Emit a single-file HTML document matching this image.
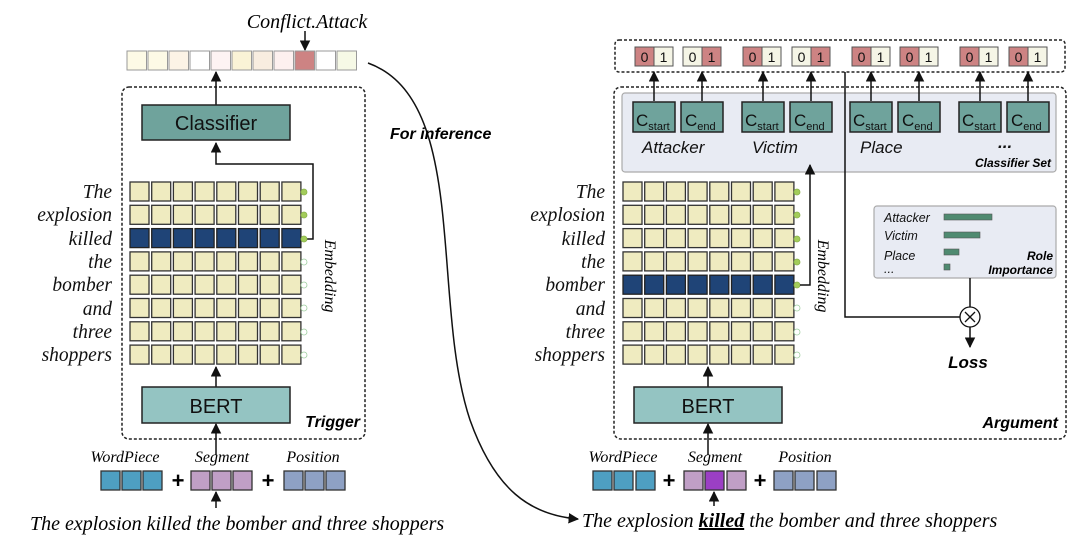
<!DOCTYPE html>
<html><head><meta charset="utf-8"><style>
html,body{margin:0;padding:0;background:#fff;}
svg{display:block;}
.ser{font-family:"Liberation Serif",serif;font-style:italic;}
.san{font-family:"Liberation Sans",sans-serif;}
</style></head><body>
<svg width="1080" height="547" viewBox="0 0 1080 547" xmlns="http://www.w3.org/2000/svg">
<defs>
<marker id="ar" viewBox="0 0 10 10" refX="9" refY="5" markerWidth="7" markerHeight="7" orient="auto-start-reverse"><path d="M0,0 L10,5 L0,10 z" fill="#111"/></marker>
<g id="row">
<rect x="0" y="0" width="19" height="19" fill="#efebc0" stroke="#333" stroke-width="1.3"/>
<rect x="21.7" y="0" width="19" height="19" fill="#efebc0" stroke="#333" stroke-width="1.3"/>
<rect x="43.4" y="0" width="19" height="19" fill="#efebc0" stroke="#333" stroke-width="1.3"/>
<rect x="65.1" y="0" width="19" height="19" fill="#efebc0" stroke="#333" stroke-width="1.3"/>
<rect x="86.8" y="0" width="19" height="19" fill="#efebc0" stroke="#333" stroke-width="1.3"/>
<rect x="108.5" y="0" width="19" height="19" fill="#efebc0" stroke="#333" stroke-width="1.3"/>
<rect x="130.2" y="0" width="19" height="19" fill="#efebc0" stroke="#333" stroke-width="1.3"/>
<rect x="151.9" y="0" width="19" height="19" fill="#efebc0" stroke="#333" stroke-width="1.3"/>
</g>
<g id="drow">
<rect x="0" y="0" width="19" height="19" fill="#1f4477" stroke="#222" stroke-width="1.3"/>
<rect x="21.7" y="0" width="19" height="19" fill="#1f4477" stroke="#222" stroke-width="1.3"/>
<rect x="43.4" y="0" width="19" height="19" fill="#1f4477" stroke="#222" stroke-width="1.3"/>
<rect x="65.1" y="0" width="19" height="19" fill="#1f4477" stroke="#222" stroke-width="1.3"/>
<rect x="86.8" y="0" width="19" height="19" fill="#1f4477" stroke="#222" stroke-width="1.3"/>
<rect x="108.5" y="0" width="19" height="19" fill="#1f4477" stroke="#222" stroke-width="1.3"/>
<rect x="130.2" y="0" width="19" height="19" fill="#1f4477" stroke="#222" stroke-width="1.3"/>
<rect x="151.9" y="0" width="19" height="19" fill="#1f4477" stroke="#222" stroke-width="1.3"/>
</g>
<circle id="gd" r="3" fill="#a3cc5a" stroke="#8ab34a" stroke-width="0.8"/>
<circle id="od" r="3" fill="#fff" stroke="#9fcf9f" stroke-width="0.8"/>
<g id="pr"><rect x="0" y="0" width="19" height="19" fill="#cd8383" stroke="#555" stroke-width="1"/><rect x="19" y="0" width="19" height="19" fill="#f5f5e6" stroke="#555" stroke-width="1"/></g>
<g id="pl"><rect x="0" y="0" width="19" height="19" fill="#f5f5e6" stroke="#555" stroke-width="1"/><rect x="19" y="0" width="19" height="19" fill="#cd8383" stroke="#555" stroke-width="1"/></g>
</defs>

<!-- ============ LEFT ============ -->
<text x="307" y="28" class="ser" font-size="20" text-anchor="middle">Conflict.Attack</text>
<line x1="305" y1="31" x2="305" y2="50" stroke="#111" stroke-width="1.5" marker-end="url(#ar)"/>
<g stroke="#999" stroke-width="1">
<rect x="127" y="51" width="19.5" height="19" fill="#fdfae6"/>
<rect x="148" y="51" width="19.5" height="19" fill="#fdfae6"/>
<rect x="169" y="51" width="19.5" height="19" fill="#fcf3e6"/>
<rect x="190" y="51" width="19.5" height="19" fill="#fff"/>
<rect x="211" y="51" width="19.5" height="19" fill="#fdf3f3"/>
<rect x="232" y="51" width="19.5" height="19" fill="#faf3d6"/>
<rect x="253" y="51" width="19.5" height="19" fill="#f8ede0"/>
<rect x="274" y="51" width="19.5" height="19" fill="#fdf0ef"/>
<rect x="295" y="51" width="19.5" height="19" fill="#cd8383"/>
<rect x="316" y="51" width="19.5" height="19" fill="#fff"/>
<rect x="337" y="51" width="19.5" height="19" fill="#f6f9e6"/>
</g>
<rect x="122" y="87" width="243" height="352" rx="7" fill="none" stroke="#222" stroke-width="1.5" stroke-dasharray="3,2"/>
<line x1="216" y1="105" x2="216" y2="72" stroke="#111" stroke-width="1.5" marker-end="url(#ar)"/>
<rect x="142" y="105" width="148" height="35" fill="#6fa39c" stroke="#222" stroke-width="1.5"/>
<text x="216" y="130" class="san" font-size="20" text-anchor="middle" fill="#111">Classifier</text>
<polyline points="307,239 313,239 313,164 216,164 216,143" fill="none" stroke="#111" stroke-width="1.5" marker-end="url(#ar)"/>
<use href="#row" x="130" y="182"/>
<use href="#row" x="130" y="205.3"/>
<use href="#drow" x="130" y="228.6"/>
<use href="#row" x="130" y="251.9"/>
<use href="#row" x="130" y="275.2"/>
<use href="#row" x="130" y="298.5"/>
<use href="#row" x="130" y="321.8"/>
<use href="#row" x="130" y="345.1"/>
<use href="#gd" x="304" y="192"/><use href="#gd" x="304" y="215"/><use href="#gd" x="304" y="239"/>
<use href="#od" x="304" y="262"/><use href="#od" x="304" y="285"/><use href="#od" x="304" y="308"/><use href="#od" x="304" y="332"/><use href="#od" x="304" y="355"/>
<g class="ser" font-size="19.5" text-anchor="end" fill="#111">
<text x="112" y="198">The</text><text x="112" y="221">explosion</text><text x="112" y="245">killed</text><text x="112" y="268">the</text><text x="112" y="291">bomber</text><text x="112" y="315">and</text><text x="112" y="338">three</text><text x="112" y="361">shoppers</text>
</g>
<text transform="translate(325,276) rotate(90)" class="ser" font-size="16" text-anchor="middle">Embedding</text>
<line x1="216" y1="387" x2="216" y2="367" stroke="#111" stroke-width="1.5" marker-end="url(#ar)"/>
<rect x="142" y="387" width="148" height="36" fill="#94c4c2" stroke="#222" stroke-width="1.5"/>
<text x="216" y="413" class="san" font-size="20" text-anchor="middle" fill="#111">BERT</text>
<text x="360" y="427" class="san" font-size="16" font-weight="bold" font-style="italic" text-anchor="end">Trigger</text>
<line x1="216" y1="455" x2="216" y2="424" stroke="#111" stroke-width="1.5" marker-end="url(#ar)"/>
<g class="ser" font-size="16" text-anchor="middle"><text x="125" y="462">WordPiece</text><text x="222" y="462">Segment</text><text x="313" y="462">Position</text></g>
<g stroke="#333" stroke-width="1.3">
<rect x="101" y="471" width="19" height="19" fill="#4e9fc2"/><rect x="122" y="471" width="19" height="19" fill="#4e9fc2"/><rect x="143" y="471" width="19" height="19" fill="#4e9fc2"/>
<rect x="191" y="471" width="19" height="19" fill="#c09fc6"/><rect x="212" y="471" width="19" height="19" fill="#c09fc6"/><rect x="233" y="471" width="19" height="19" fill="#c09fc6"/>
<rect x="284" y="471" width="19" height="19" fill="#8ea1c4"/><rect x="305" y="471" width="19" height="19" fill="#8ea1c4"/><rect x="326" y="471" width="19" height="19" fill="#8ea1c4"/>
</g>
<g class="san" font-size="22" font-weight="bold" text-anchor="middle"><text x="178" y="488">+</text><text x="268" y="488">+</text></g>
<line x1="216" y1="508" x2="216" y2="492" stroke="#111" stroke-width="1.5" marker-end="url(#ar)"/>
<text x="30" y="530" class="ser" font-size="20">The explosion killed the bomber and three shoppers</text>

<!-- curve -->
<path d="M368,63 C470,100 430,300 470,420 C495,490 530,515 578,519" fill="none" stroke="#111" stroke-width="1.5" marker-end="url(#ar)"/>
<text x="390" y="139" class="san" font-size="16" font-weight="bold" font-style="italic">For inference</text>

<!-- ============ RIGHT ============ -->
<rect x="615" y="40" width="450" height="32" rx="4" fill="none" stroke="#222" stroke-width="1.5" stroke-dasharray="3,2"/>
<use href="#pr" x="635" y="47"/><use href="#pl" x="683" y="47"/><use href="#pr" x="743" y="47"/><use href="#pl" x="792" y="47"/>
<use href="#pr" x="852" y="47"/><use href="#pr" x="900" y="47"/><use href="#pr" x="960" y="47"/><use href="#pr" x="1009" y="47"/>
<g class="san" font-size="14" text-anchor="middle" fill="#111">
<text x="644.5" y="62">0</text><text x="663.5" y="62">1</text><text x="692.5" y="62">0</text><text x="711.5" y="62">1</text>
<text x="752.5" y="62">0</text><text x="771.5" y="62">1</text><text x="801.5" y="62">0</text><text x="820.5" y="62">1</text>
<text x="861.5" y="62">0</text><text x="880.5" y="62">1</text><text x="909.5" y="62">0</text><text x="928.5" y="62">1</text>
<text x="969.5" y="62">0</text><text x="988.5" y="62">1</text><text x="1018.5" y="62">0</text><text x="1037.5" y="62">1</text>
</g>
<rect x="614" y="87" width="452" height="352" rx="7" fill="none" stroke="#222" stroke-width="1.5" stroke-dasharray="3,2"/>
<rect x="622" y="93" width="434" height="79" rx="3" fill="#e8ebf3" stroke="#aaa" stroke-width="1.2"/>
<g stroke="#111" stroke-width="1.5">
<line x1="654" y1="101" x2="654" y2="72" marker-end="url(#ar)"/><line x1="702" y1="101" x2="702" y2="72" marker-end="url(#ar)"/>
<line x1="763" y1="101" x2="763" y2="72" marker-end="url(#ar)"/><line x1="811" y1="101" x2="811" y2="72" marker-end="url(#ar)"/>
<line x1="871" y1="101" x2="871" y2="72" marker-end="url(#ar)"/><line x1="919" y1="101" x2="919" y2="72" marker-end="url(#ar)"/>
<line x1="980" y1="101" x2="980" y2="72" marker-end="url(#ar)"/><line x1="1028" y1="101" x2="1028" y2="72" marker-end="url(#ar)"/>
</g>
<g fill="#6fa39c" stroke="#222" stroke-width="1.5">
<rect x="633" y="102" width="42" height="30"/><rect x="681" y="102" width="42" height="30"/>
<rect x="742" y="102" width="42" height="30"/><rect x="790" y="102" width="42" height="30"/>
<rect x="850" y="102" width="42" height="30"/><rect x="898" y="102" width="42" height="30"/>
<rect x="959" y="102" width="42" height="30"/><rect x="1007" y="102" width="42" height="30"/>
</g>
<g class="san" font-size="17" fill="#111">
<text x="636" y="126">C<tspan font-size="11" dy="4">start</tspan></text><text x="685" y="126">C<tspan font-size="11" dy="4">end</tspan></text>
<text x="745" y="126">C<tspan font-size="11" dy="4">start</tspan></text><text x="794" y="126">C<tspan font-size="11" dy="4">end</tspan></text>
<text x="853" y="126">C<tspan font-size="11" dy="4">start</tspan></text><text x="902" y="126">C<tspan font-size="11" dy="4">end</tspan></text>
<text x="962" y="126">C<tspan font-size="11" dy="4">start</tspan></text><text x="1011" y="126">C<tspan font-size="11" dy="4">end</tspan></text>
</g>
<g class="san" font-size="17" font-style="italic" fill="#111">
<text x="642" y="153">Attacker</text><text x="752" y="153">Victim</text><text x="860" y="153">Place</text><text x="998" y="148" font-weight="bold">...</text>
</g>
<text x="1051" y="167" class="san" font-size="12" font-weight="bold" font-style="italic" text-anchor="end">Classifier Set</text>
<!-- right grid -->
<use href="#row" x="623" y="182"/>
<use href="#row" x="623" y="205.3"/>
<use href="#row" x="623" y="228.6"/>
<use href="#row" x="623" y="251.9"/>
<use href="#drow" x="623" y="275.2"/>
<use href="#row" x="623" y="298.5"/>
<use href="#row" x="623" y="321.8"/>
<use href="#row" x="623" y="345.1"/>
<use href="#gd" x="797" y="192"/><use href="#gd" x="797" y="215"/><use href="#gd" x="797" y="239"/><use href="#gd" x="797" y="262"/><use href="#gd" x="797" y="285"/>
<use href="#od" x="797" y="308"/><use href="#od" x="797" y="332"/><use href="#od" x="797" y="355"/>
<g class="ser" font-size="19.5" text-anchor="end" fill="#111">
<text x="605" y="198">The</text><text x="605" y="221">explosion</text><text x="605" y="245">killed</text><text x="605" y="268">the</text><text x="605" y="291">bomber</text><text x="605" y="315">and</text><text x="605" y="338">three</text><text x="605" y="361">shoppers</text>
</g>
<polyline points="800,285 810,285 810,165" fill="none" stroke="#111" stroke-width="1.5" marker-end="url(#ar)"/>
<text transform="translate(818,276) rotate(90)" class="ser" font-size="16" text-anchor="middle">Embedding</text>
<polyline points="845,72 845,317 960,317" fill="none" stroke="#111" stroke-width="1.5"/>
<rect x="874" y="206" width="182" height="72" rx="3" fill="#e8ebf3" stroke="#aaa" stroke-width="1.2"/>
<g class="san" font-size="12.5" font-style="italic" fill="#111">
<text x="884" y="222">Attacker</text><text x="884" y="240">Victim</text><text x="884" y="260">Place</text><text x="884" y="273">...</text>
</g>
<g fill="#4f8a70" stroke="#555" stroke-width="0.6">
<rect x="944" y="214" width="48" height="6"/><rect x="944" y="232" width="36" height="6"/><rect x="944" y="249" width="15" height="6"/><rect x="944" y="264" width="6" height="6"/>
</g>
<text x="1053" y="260" class="san" font-size="12" font-weight="bold" font-style="italic" text-anchor="end">Role</text>
<text x="1053" y="274" class="san" font-size="12" font-weight="bold" font-style="italic" text-anchor="end">Importance</text>
<line x1="970" y1="278" x2="970" y2="307" stroke="#111" stroke-width="1.5"/>
<circle cx="970" cy="317" r="10" fill="#fff" stroke="#111" stroke-width="1.3"/>
<path d="M965,312 L975,322 M975,312 L965,322" stroke="#111" stroke-width="1.3"/>
<line x1="970" y1="327" x2="970" y2="347" stroke="#111" stroke-width="1.5" marker-end="url(#ar)"/>
<text x="968" y="368" class="san" font-size="17" font-weight="bold" font-style="italic" text-anchor="middle">Loss</text>
<text x="1058" y="428" class="san" font-size="16" font-weight="bold" font-style="italic" text-anchor="end">Argument</text>
<line x1="708" y1="387" x2="708" y2="367" stroke="#111" stroke-width="1.5" marker-end="url(#ar)"/>
<rect x="634" y="387" width="148" height="36" fill="#94c4c2" stroke="#222" stroke-width="1.5"/>
<text x="708" y="413" class="san" font-size="20" text-anchor="middle" fill="#111">BERT</text>
<line x1="708" y1="455" x2="708" y2="424" stroke="#111" stroke-width="1.5" marker-end="url(#ar)"/>
<g class="ser" font-size="16" text-anchor="middle"><text x="623" y="462">WordPiece</text><text x="715" y="462">Segment</text><text x="805" y="462">Position</text></g>
<g stroke="#333" stroke-width="1.3">
<rect x="593" y="471" width="19" height="19" fill="#4e9fc2"/><rect x="614" y="471" width="19" height="19" fill="#4e9fc2"/><rect x="636" y="471" width="19" height="19" fill="#4e9fc2"/>
<rect x="684" y="471" width="19" height="19" fill="#c09fc6"/><rect x="705" y="471" width="19" height="19" fill="#9b3fc4"/><rect x="727" y="471" width="19" height="19" fill="#c09fc6"/>
<rect x="774" y="471" width="19" height="19" fill="#8ea1c4"/><rect x="795" y="471" width="19" height="19" fill="#8ea1c4"/><rect x="817" y="471" width="19" height="19" fill="#8ea1c4"/>
</g>
<g class="san" font-size="22" font-weight="bold" text-anchor="middle"><text x="669" y="488">+</text><text x="760" y="488">+</text></g>
<line x1="714" y1="506" x2="714" y2="492" stroke="#111" stroke-width="1.5" marker-end="url(#ar)"/>
<text x="582" y="527" class="ser" font-size="20">The explosion <tspan font-weight="bold" text-decoration="underline">killed</tspan> the bomber and three shoppers</text>
</svg>
</body></html>
